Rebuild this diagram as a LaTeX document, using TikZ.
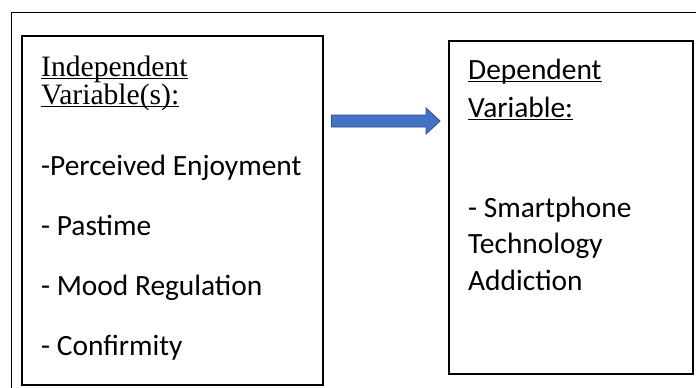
\documentclass[tikz,border=0pt]{standalone}
\usepackage{fontspec}
\setmainfont{Carlito}
\newfontfamily\headserif{Liberation Serif}
\usetikzlibrary{calc}
\definecolor{flowblue}{HTML}{4472C4}
\definecolor{flowedge}{HTML}{2F528F}

\begin{document}
\begin{tikzpicture}[x=1pt,y=-1pt,
  varbox/.style={draw,line width=1.5pt,anchor=north west,inner sep=0pt},
  txt/.style={anchor=base west,inner sep=0pt,font=\fontsize{29.4}{29}\selectfont},
  serifhead/.style={txt,font=\fontsize{29.6}{29}\selectfont\headserif},
  uline/.style={line width=1.2pt},
  flowarrow/.style={fill=flowblue,draw=flowedge,line width=0.9pt,line join=miter}]
\useasboundingbox (0,0) rectangle (696,388);
% frame
\coordinate (frameA) at (11,388);
\coordinate (frameB) at (11,12);
\coordinate (frameC) at (696,12);
\draw[line width=0.9pt] (frameA) -- (frameB) -- (frameC);
% boxes
\node[varbox,minimum width=301,minimum height=349] (indep) at (21,35) {};
\node[varbox,minimum width=244,minimum height=333] (dep) at (448,40) {};
% independent side
\node[serifhead] (ih1) at (41,76) {Independent};
\node[serifhead] (ih2) at (41,104) {Variable(s):};
\draw[uline] ([yshift=-2.5pt]ih1.base west) -- ([yshift=-2.5pt]ih1.base east);
\draw[uline] ([yshift=-2.5pt]ih2.base west) -- ([yshift=-2.5pt]ih2.base east);
\node[txt] (iv1) at (41,175) {-Perceived Enjoyment};
\node[txt] (iv2) at (41,235) {- Pastime};
\node[txt] (iv3) at (41,295) {- Mood Regulation};
\node[txt] (iv4) at (41,355) {- Confirmity};
% dependent side
\node[txt] (dh1) at (468,79) {Dependent};
\node[txt] (dh2) at (468,117) {Variable:};
\draw[uline] ([yshift=-2.5pt]dh1.base west) -- ([yshift=-2.5pt]dh1.base east);
\draw[uline] ([yshift=-2.5pt]dh2.base west) -- ([yshift=-2.5pt]dh2.base east);
\node[txt] (dv1) at (468,217) {- Smartphone};
\node[txt] (dv2) at (468,253) {Technology};
\node[txt] (dv3) at (468,290) {Addiction};
% arrow
\coordinate (flowS) at ($(indep.east |- 0,121)+(8,0)$);
\coordinate (flowE) at ($(dep.west |- 0,121)+(-8,0)$);
\draw[flowarrow] ($(flowS)+(0,-6)$) -- ($(flowE)+(-14,-6)$) -- ($(flowE)+(-14,-13)$)
  -- (flowE) -- ($(flowE)+(-14,13)$) -- ($(flowE)+(-14,6)$) -- ($(flowS)+(0,6)$) -- cycle;
\end{tikzpicture}
\end{document}
